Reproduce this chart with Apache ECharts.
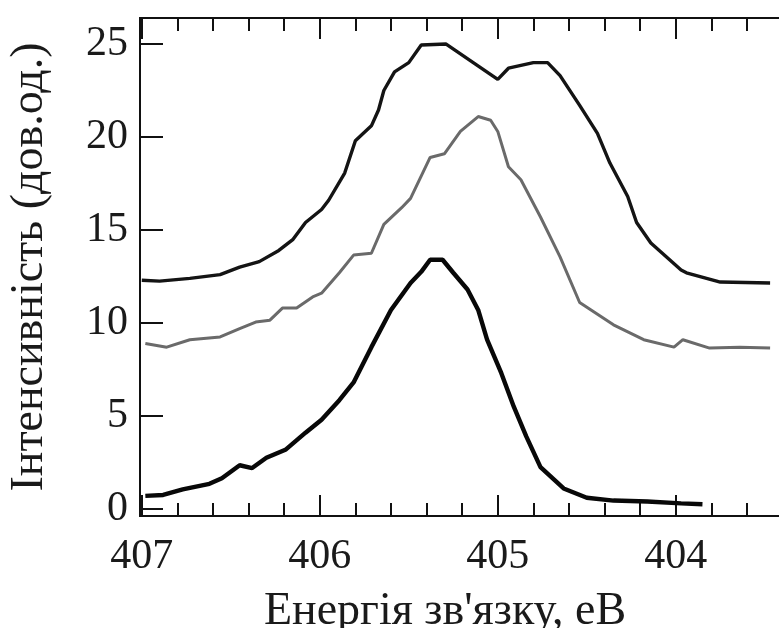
<!DOCTYPE html>
<html>
<head>
<meta charset="utf-8">
<script src="https://cdn.jsdelivr.net/npm/echarts@6/dist/echarts.min.js"></script>
<style>
  html, body { margin: 0; padding: 0; background: #fff; }
  #chart { width: 779px; height: 628px; }
</style>
</head>
<body>
<div id="chart"></div>
<script>
// верхня крива (чорна)
var energyA = [407.0, 406.9, 406.73, 406.56, 406.45, 406.34, 406.23, 406.15, 406.08, 405.99, 405.95, 405.86, 405.8, 405.71, 405.67, 405.64, 405.58, 405.5, 405.43, 405.29, 405.0, 404.94, 404.8, 404.72, 404.65, 404.54, 404.44, 404.37, 404.27, 404.22, 404.14, 403.97, 403.94, 403.75, 403.47];
var intensA = [12.3, 12.25, 12.4, 12.6, 13.0, 13.3, 13.9, 14.5, 15.4, 16.1, 16.6, 18.06, 19.8, 20.6, 21.45, 22.5, 23.5, 24.0, 24.95, 25.0, 23.1, 23.7, 24.0, 24.0, 23.3, 21.7, 20.2, 18.6, 16.8, 15.4, 14.3, 12.85, 12.7, 12.2, 12.15];

// середня крива (сіра)
var energyB = [406.98, 406.86, 406.73, 406.56, 406.45, 406.36, 406.28, 406.21, 406.13, 406.04, 405.99, 405.89, 405.81, 405.71, 405.64, 405.54, 405.49, 405.38, 405.3, 405.21, 405.11, 405.04, 405.0, 404.94, 404.87, 404.76, 404.65, 404.54, 404.35, 404.18, 404.01, 403.96, 403.81, 403.64, 403.47];
var intensB = [8.9, 8.7, 9.1, 9.25, 9.7, 10.05, 10.15, 10.8, 10.8, 11.4, 11.6, 12.7, 13.65, 13.75, 15.3, 16.2, 16.7, 18.9, 19.1, 20.3, 21.1, 20.9, 20.3, 18.4, 17.7, 15.7, 13.55, 11.1, 9.9, 9.1, 8.7, 9.1, 8.65, 8.7, 8.65];

// нижня крива (чорна, товста)
var energyC = [406.98, 406.88, 406.77, 406.62, 406.55, 406.45, 406.38, 406.3, 406.19, 406.08, 405.99, 405.89, 405.81, 405.71, 405.6, 405.49, 405.43, 405.38, 405.31, 405.25, 405.17, 405.11, 405.06, 404.98, 404.91, 404.84, 404.76, 404.63, 404.5, 404.35, 404.16, 403.97, 403.85];
var intensC = [0.7, 0.75, 1.05, 1.35, 1.65, 2.35, 2.2, 2.75, 3.2, 4.1, 4.8, 5.85, 6.8, 8.7, 10.7, 12.15, 12.75, 13.4, 13.4, 12.7, 11.8, 10.7, 9.1, 7.3, 5.5, 3.9, 2.25, 1.1, 0.6, 0.45, 0.4, 0.3, 0.25];

var xMajor = [404, 405, 406, 407];
var xMinor = [403.6, 403.8, 404.2, 404.4, 404.6, 404.8, 405.2, 405.4, 405.6, 405.8, 406.2, 406.4, 406.6, 406.8];
var yTicks = [0, 5, 10, 15, 20, 25];

function pairs(xs, ys) {
  var out = [];
  for (var i = 0; i < xs.length; i++) out.push([xs[i], ys[i]]);
  return out;
}

var font = "'Liberation Serif', 'DejaVu Serif', serif";
var lineStyle = { color: "#111", width: 2 };

function xAxisDef(pos, ticks, len, labels) {
  return {
    type: "value",
    position: pos,
    min: 403.42,
    max: 407.01,
    inverse: true,
    axisLine: { show: true, onZero: false, lineStyle: lineStyle },
    axisTick: { show: true, inside: true, length: len, customValues: ticks, lineStyle: lineStyle },
    axisLabel: labels
      ? { show: true, customValues: ticks, fontFamily: font, fontSize: 42, color: "#1a1a1a", margin: 20 }
      : { show: false },
    splitLine: { show: false }
  };
}

var myChart = echarts.init(document.getElementById("chart"));
var option = {
  backgroundColor: "#fff",
  animation: false,
  grid: { left: 140, top: 18, right: 0, bottom: 112 },
  xAxis: [
    xAxisDef("bottom", xMajor, 21, true),
    xAxisDef("bottom", xMinor, 13, false),
    xAxisDef("top", xMajor, 21, false),
    xAxisDef("top", xMinor, 13, false)
  ],
  yAxis: {
    type: "value",
    min: -0.38,
    max: 26.4,
    axisLine: { show: true, lineStyle: lineStyle },
    axisTick: { show: true, inside: true, length: 23, customValues: yTicks, lineStyle: lineStyle },
    axisLabel: { customValues: yTicks, fontFamily: font, fontSize: 42, color: "#1a1a1a", margin: 12 },
    splitLine: { show: false }
  },
  graphic: [
    {
      type: "text",
      x: 445,
      y: 589,
      style: { text: "Енергія зв'язку, еВ", font: "46px " + font, fill: "#1a1a1a", align: "center", verticalAlign: "top" }
    },
    {
      type: "text",
      x: 7,
      y: 267,
      rotation: Math.PI / 2,
      style: { text: "Інтенсивність (дов.од.)", font: "46px " + font, fill: "#1a1a1a", align: "center", verticalAlign: "top" }
    }
  ],
  series: [
    {
      type: "line",
      data: pairs(energyA, intensA),
      showSymbol: false,
      lineStyle: { color: "#141414", width: 3.4 }
    },
    {
      type: "line",
      data: pairs(energyB, intensB),
      showSymbol: false,
      lineStyle: { color: "#6a6a6a", width: 3 }
    },
    {
      type: "line",
      data: pairs(energyC, intensC),
      showSymbol: false,
      lineStyle: { color: "#080808", width: 4.4 }
    }
  ]
};
myChart.setOption(option);
</script>
</body>
</html>
